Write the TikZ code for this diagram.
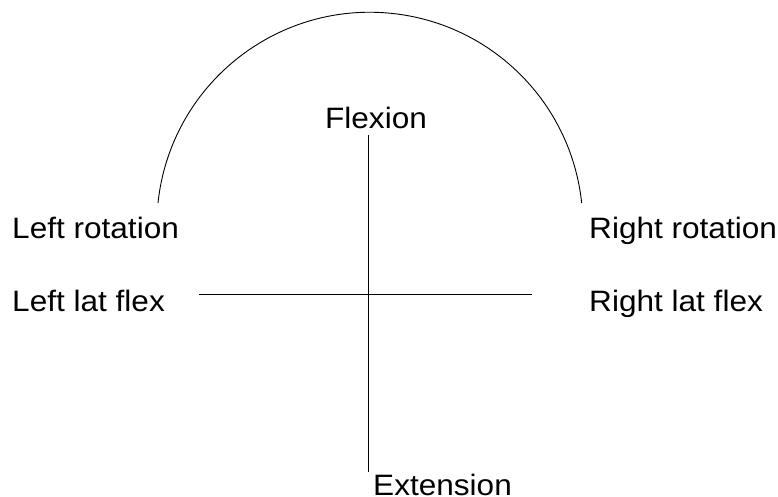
\documentclass[tikz,border=0pt]{standalone}
\usepackage{fontspec}
\setmainfont{Liberation Sans}
\begin{document}
\begin{tikzpicture}[x=1pt,y=1pt,
  lbl/.style={inner sep=0pt,anchor=base west,xscale=1.07,transform shape,font=\fontsize{29.5}{32}\selectfont},
  axis/.style={line width=0.9pt,black}]
\useasboundingbox (0,0) rectangle (778,497);
% axes
\coordinate (vtop) at (368,362);
\coordinate (vbot) at (368,25);
\coordinate (hl) at (199,203);
\coordinate (hr) at (532,203);
\draw[axis] (vtop) -- (vbot);
\draw[axis] (hl) -- (hr);
% arc
\coordinate (arcl) at (158,294);
\draw[axis] (arcl) arc[start angle=174,end angle=6,radius=213];
% labels
\node[lbl,anchor=base] (flex) at (376,368) {Flexion};
\node[lbl] (lrot) at (12,258) {Left rotation};
\node[lbl] (rrot) at (589,258) {Right rotation};
\node[lbl] (llat) at (12,185) {Left lat flex};
\node[lbl] (rlat) at (589,185) {Right lat flex};
\node[lbl] (ext) at (373,1.5) {Extension};
\end{tikzpicture}
\end{document}
